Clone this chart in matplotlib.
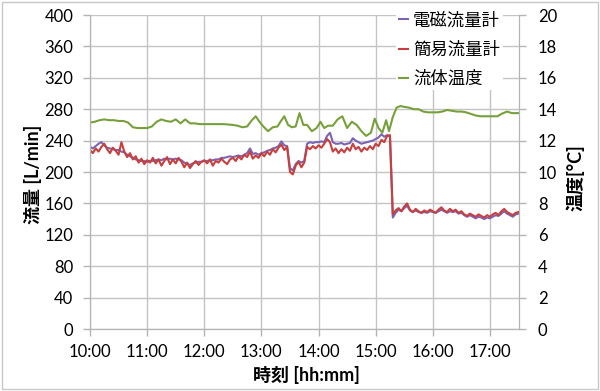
import numpy as np
import matplotlib
matplotlib.use("Agg")
import matplotlib.pyplot as plt
from matplotlib.patches import Rectangle

plt.rcParams['font.family'] = ['Lato', 'Noto Sans CJK JP', 'DejaVu Sans']

# 経過時間 [min] (10:00 起点), 3分ごと
t_flow = np.arange(0, 451, 3)

# 電磁流量計 [L/min]
emf = [
    232, 230, 233, 236, 238, 234, 231, 230, 229, 228,
    228, 226, 225, 222, 220, 218, 216, 215, 214, 214,
    213, 214, 214, 215, 216, 215, 217, 216, 217, 216,
    217, 216, 215, 212, 210, 209, 211, 212, 213, 213,
    214, 214, 215, 215, 216, 216, 218, 218, 219, 220,
    219, 220, 221, 220, 222, 224, 230, 223, 224, 222,
    224, 225, 227, 228, 230, 231, 233, 239, 234, 233,
    205, 202, 210, 214, 212, 214, 236, 238, 237, 238,
    238, 239, 238, 246, 250, 238, 236, 236, 237, 235,
    236, 237, 243, 240, 238, 236, 237, 238, 239, 240,
    242, 244, 248, 245, 247, 245, 142, 148, 152, 150,
    154, 157, 151, 149, 151, 149, 148, 149, 148, 150,
    149, 148, 150, 152, 150, 148, 150, 149, 150, 147,
    148, 145, 143, 145, 143, 141, 143, 142, 140, 142,
    141, 143, 145, 144, 147, 150, 147, 145, 143, 146,
    147,
]

# 簡易流量計 [L/min]
simple = [
    228, 224, 230, 226, 232, 236, 229, 224, 231, 227,
    222, 238, 226, 219, 224, 216, 220, 212, 217, 210,
    215, 212, 218, 211, 216, 208, 214, 219, 210, 216,
    211, 218, 213, 206, 212, 205, 210, 214, 209, 213,
    215, 211, 216, 208, 214, 212, 217, 213, 210, 216,
    218, 214, 220, 216, 222, 219, 226, 217, 221, 218,
    224, 220, 226, 222, 229, 225, 231, 235, 228, 232,
    200, 197, 208, 213, 206, 212, 232, 229, 233, 230,
    234, 231, 236, 242, 238, 226, 230, 224, 229, 225,
    231, 227, 236, 229, 232, 226, 231, 228, 233, 229,
    236, 233, 241, 238, 246, 247, 146, 151, 154, 150,
    156, 160, 152, 149, 153, 150, 148, 151, 149, 152,
    150, 148, 152, 155, 151, 149, 153, 150, 152, 148,
    150, 146, 144, 147, 145, 143, 146, 144, 142, 145,
    143, 146, 148, 145, 150, 153, 149, 147, 145, 148,
    149,
]

# 流体温度 [°C]
t_temp = [0, 5, 10, 15, 20, 25, 30, 35, 40, 45, 50, 55, 60, 65, 70, 75, 80, 85,
          90, 95, 100, 105, 110, 115, 120, 130, 140, 150, 155, 160, 165, 170,
          174, 178, 182, 187, 192, 197, 200, 204, 208, 212, 216, 220, 224, 228,
          233, 238, 242, 246, 250, 255, 260, 265, 270, 275, 280, 285, 290, 295,
          299, 303, 307, 311, 314, 318, 322, 326, 330, 335, 340, 345, 350, 355,
          360, 365, 370, 375, 380, 385, 390, 395, 400, 405, 410, 420, 428, 432,
          438, 443, 450]
temp = [13.15, 13.2, 13.3, 13.35, 13.3, 13.3, 13.25, 13.25, 13.15, 12.85, 12.8,
        12.8, 12.8, 12.9, 13.2, 13.35, 13.25, 13.2, 13.35, 13.1, 13.35, 13.1,
        13.1, 13.05, 13.05, 13.05, 13.05, 13.0, 12.95, 12.85, 12.9, 13.3,
        13.55, 13.2, 12.9, 12.6, 12.85, 12.9, 13.2, 13.55, 13.0, 12.85, 12.9,
        13.75, 13.0, 13.0, 12.6, 12.8, 13.2, 12.8, 12.95, 12.95, 13.35, 13.55,
        12.8, 13.2, 13.0, 12.6, 12.3, 12.5, 13.4, 12.8, 12.5, 13.3, 12.6, 13.5,
        14.1, 14.2, 14.15, 14.1, 14.0, 14.0, 13.85, 13.8, 13.8, 13.8, 13.85,
        13.95, 13.9, 13.85, 13.85, 13.8, 13.7, 13.6, 13.55, 13.55, 13.55, 13.7,
        13.85, 13.75, 13.75]

xtick_pos = [0, 60, 120, 180, 240, 300, 360, 420]
xtick_labels = ['10:00', '11:00', '12:00', '13:00', '14:00', '15:00', '16:00', '17:00']

c_emf = '#7B64B4'
c_simple = '#C8403E'
c_temp = '#77A03A'
gray = '#B4B4B4'

fig = plt.figure(figsize=(6.0, 3.91), dpi=100)
ax = fig.add_axes([0.15, 1 - 329 / 391, (518.5 - 90) / 600, (329 - 15) / 391])
ax2 = ax.twinx()

l1, = ax.plot(t_flow, emf, color=c_emf, lw=1.5, label='電磁流量計')
l2, = ax.plot(t_flow, simple, color=c_simple, lw=1.5, label='簡易流量計')
l3, = ax2.plot(t_temp, temp, color=c_temp, lw=1.5, label='流体温度')

ax.set_xlim(0, 450)
ax.set_ylim(0, 400)
ax2.set_ylim(0, 20)
ax.set_xticks(xtick_pos)
ax.set_xticklabels(xtick_labels)
ax.set_yticks(np.arange(0, 401, 40))
ax2.set_yticks(np.arange(0, 21, 2))

ax.grid(True, color='#C4C4C4', lw=1)
ax.set_axisbelow(True)

for a in (ax, ax2):
    for s in a.spines.values():
        s.set_color(gray)
    a.spines['top'].set_visible(False)
    a.tick_params(colors=gray, labelcolor='black', labelsize=12, length=5, width=1)
ax.tick_params(axis='y', pad=7)
ax.tick_params(axis='x', pad=6)
ax2.tick_params(axis='y', pad=9)

fig.text(33 / 600, 1 - 174 / 391, '流量 [L/min]', rotation=90, ha='center', va='center',
         fontsize=13, fontweight='bold')
fig.text(575 / 600, 1 - 178 / 391, '温度[°C]', rotation=90, ha='center', va='center',
         fontsize=13, fontweight='bold')
fig.text(306 / 600, 1 - 375 / 391, '時刻 [hh:mm]', ha='center', va='center',
         fontsize=13, fontweight='bold')

leg = ax2.legend(handles=[l1, l2, l3], loc='upper right', bbox_to_anchor=(512 / 600, 1.0),
                 bbox_transform=fig.transFigure, fontsize=12.5, frameon=True,
                 handlelength=0.5, handletextpad=0.3, labelspacing=0.75,
                 borderpad=0.2, fancybox=False)
leg.get_frame().set_facecolor('white')
leg.get_frame().set_edgecolor('none')
leg.get_frame().set_alpha(1)
leg.set_zorder(10)

fig.add_artist(Rectangle((0.004, 0.005), 0.992, 0.99, transform=fig.transFigure,
                         fill=False, edgecolor='#C8C8C8', lw=1))

fig.savefig('out.png', dpi=100)
